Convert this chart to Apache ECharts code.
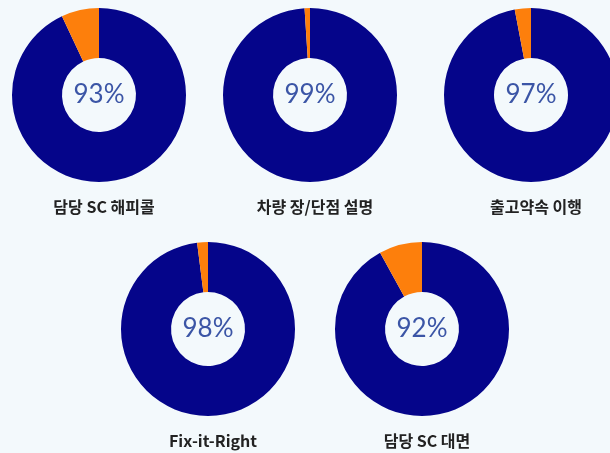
<!DOCTYPE html>
<html>
<head>
<meta charset="utf-8">
<script src="https://cdn.jsdelivr.net/npm/echarts@6/dist/echarts.min.js"></script>
<style>
  html, body { margin: 0; padding: 0; background: #f3f9fc; }
  #chartDiv { width: 610px; height: 453px; }
</style>
</head>
<body>
<div id="chartDiv"></div>
<script>
// 항목명 / 만족 비율(%)
var itemNames = ['담당 SC 해피콜', '차량 장/단점 설명', '출고약속 이행', 'Fix-it-Right', '담당 SC 대면'];
var scoreList = [93, 99, 97, 98, 92];
var restList = [7, 1, 3, 2, 8];

// 도넛 배치 (px)
var centerList = [[99, 95], [310, 95], [531, 95], [208, 329], [422, 329]];
var labelYList = [206, 206, 206, 440, 440];

var mainColor = '#05058a';
var restColor = '#fd7f0c';

var chartDiv = echarts.init(document.getElementById('chartDiv'));

var seriesList = new Array();
var titleList = new Array();
for (var i = 0; i < itemNames.length; i++) {
    seriesList.push({
        type: 'pie',
        center: centerList[i],
        radius: [37, 87],
        startAngle: 90,
        clockwise: true,
        silent: true,
        avoidLabelOverlap: false,
        label: {
            show: true,
            position: 'center',
            formatter: scoreList[i] + '%',
            fontFamily: 'Lato',
            fontSize: 26,
            padding: [7, 0, 0, 0],
            color: '#3b55a6'
        },
        labelLine: { show: false },
        itemStyle: { borderWidth: 0 },
        data: [
            { value: scoreList[i], name: itemNames[i], itemStyle: { color: mainColor } },
            { value: restList[i], name: '', itemStyle: { color: restColor }, label: { show: false } }
        ]
    });
    titleList.push({
        text: itemNames[i],
        left: centerList[i][0],
        top: labelYList[i] - 12,
        textAlign: 'center',
        textStyle: {
            fontFamily: 'Noto Sans CJK KR',
            fontSize: 16,
            fontWeight: 'bold',
            color: '#222222'
        }
    });
}

var option = {
    backgroundColor: '#f3f9fc',
    animation: false,
    title: titleList,
    series: seriesList
};

chartDiv.setOption(option);
</script>
</body>
</html>
